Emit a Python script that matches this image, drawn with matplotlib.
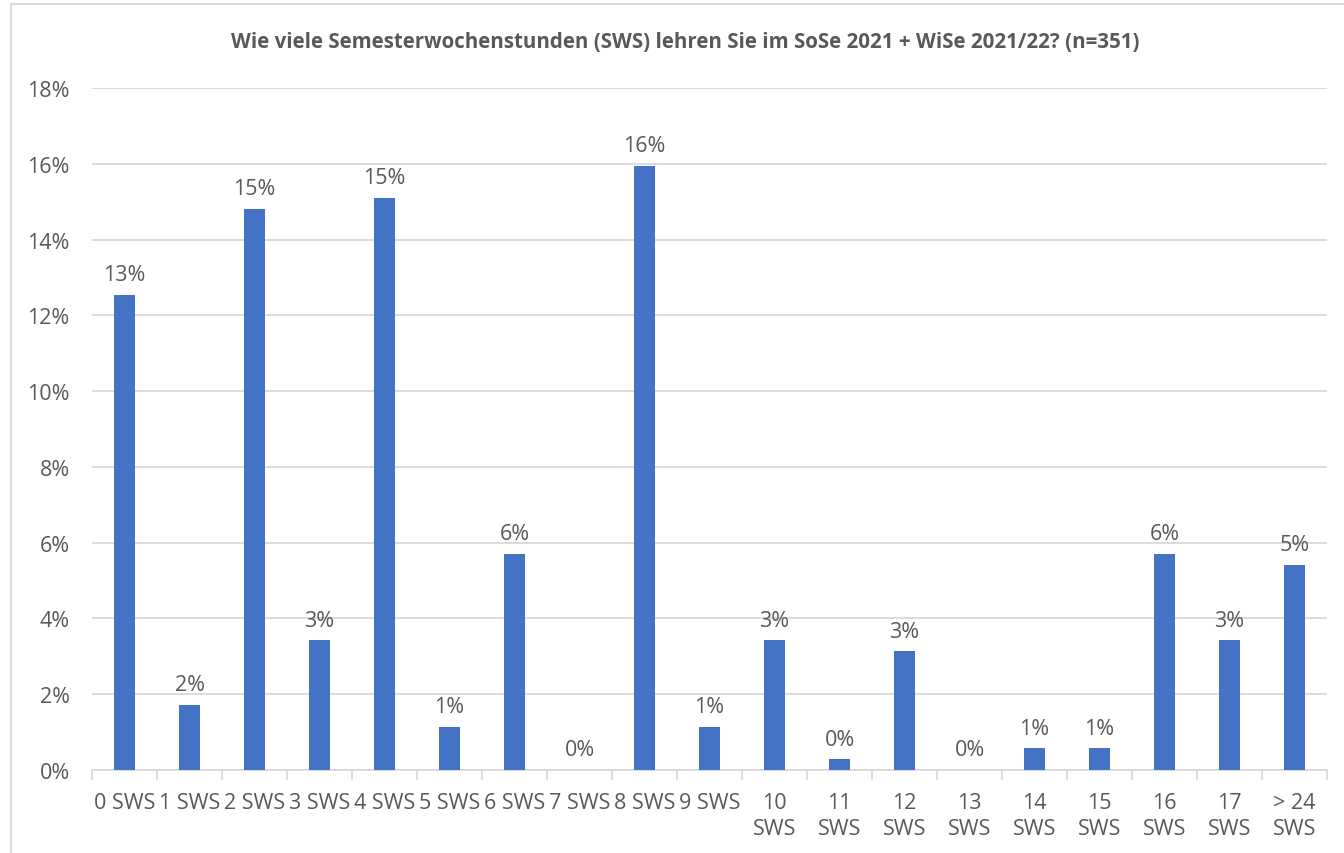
import matplotlib
matplotlib.use("Agg")
import matplotlib.pyplot as plt
from matplotlib.patches import Rectangle
import numpy as np

categories = ["0 SWS", "1 SWS", "2 SWS", "3 SWS", "4 SWS", "5 SWS", "6 SWS", "7 SWS",
              "8 SWS", "9 SWS", "10\nSWS", "11\nSWS", "12\nSWS", "13\nSWS", "14\nSWS",
              "15\nSWS", "16\nSWS", "17\nSWS", "> 24\nSWS"]
shares = [12.54, 1.71, 14.81, 3.42, 15.10, 1.14, 5.70, 0.0, 15.95, 1.14,
          3.42, 0.28, 3.13, 0.0, 0.57, 0.57, 5.70, 3.42, 5.41]
yticks = [0, 2, 4, 6, 8, 10, 12, 14, 16, 18]
title = "Wie viele Semesterwochenstunden (SWS) lehren Sie im SoSe 2021 + WiSe 2021/22? (n=351)"

TEXT = "#595959"
BAR = "#4472C4"
GRID = "#D9D9D9"

plt.rcParams["font.family"] = ["Open Sans", "DejaVu Sans"]

fig = plt.figure(figsize=(13.44, 8.54), dpi=100)
fig.patches.append(Rectangle((11 / 1344, -0.01), 1.0, 1 - 5 / 854 + 0.01,
                             transform=fig.transFigure, fill=False,
                             edgecolor="#D9D9D9", linewidth=1.5))
ax = fig.add_axes([92 / 1344, 1 - 771 / 854, (1327 - 92) / 1344, (771 - 89) / 854])

x = np.arange(len(categories))
ax.bar(x, shares, width=0.31, color=BAR, zorder=3)
for xi, v in zip(x, shares):
    ax.annotate(f"{v:.0f}%", (xi, v), xytext=(0, 7), textcoords="offset points",
                ha="center", va="bottom", fontsize=15.5, color=TEXT)

ax.set_xlim(-0.5, len(categories) - 0.5)
ax.set_ylim(0, 18)
ax.set_yticks(yticks)
ax.set_yticklabels([f"{t}%" for t in yticks])
ax.yaxis.grid(True, color=GRID, linewidth=1.3, zorder=0)
ax.tick_params(axis="y", length=0, pad=16, labelsize=15.5, labelcolor=TEXT)

ax.set_xticks(x)
ax.set_xticklabels(categories, fontsize=15.5, color=TEXT, linespacing=1.3, va="top")
ax.tick_params(axis="x", length=0, pad=16)
ax.set_xticks(np.arange(-0.5, len(categories), 1.0), minor=True)
ax.tick_params(axis="x", which="minor", length=7, width=1.3, color=GRID, direction="out")

for s in ["top", "right", "left"]:
    ax.spines[s].set_visible(False)
ax.spines["bottom"].set_color(GRID)
ax.spines["bottom"].set_linewidth(1.3)

fig.text(685 / 1344, 1 - 43 / 854, title, ha="center", va="center",
         fontsize=14.8, fontweight="bold", color=TEXT)

fig.savefig("out.png", dpi=100)
